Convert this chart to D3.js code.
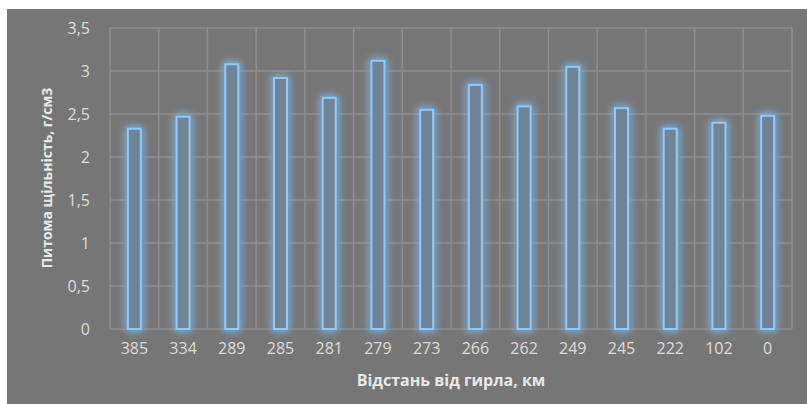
<!DOCTYPE html>
<html><head><meta charset="utf-8">
<script src="https://cdn.jsdelivr.net/npm/d3@7"></script>
<style>body{margin:0;background:#fff;}svg{display:block;}</style>
</head><body>
<script>
const categories = ["385","334","289","285","281","279","273","266","262","249","245","222","102","0"];
const values = [2.34,2.48,3.09,2.93,2.70,3.13,2.56,2.85,2.60,3.06,2.58,2.34,2.41,2.49];
const yTicks = [0,0.5,1,1.5,2,2.5,3,3.5];
const yTickLabels = ["0","0,5","1","1,5","2","2,5","3","3,5"];

(function(){
const W = 807, H = 404;
const svg = d3.select("body").append("svg").attr("width", W).attr("height", H);
const defs = svg.append("defs");
const f = defs.append("filter").attr("id","glow").attr("x","-150%").attr("y","-20%").attr("width","400%").attr("height","140%");
f.append("feGaussianBlur").attr("in","SourceGraphic").attr("stdDeviation",4).attr("result","b");
const m = f.append("feMerge");
m.append("feMergeNode").attr("in","b");
m.append("feMergeNode").attr("in","b");
m.append("feMergeNode").attr("in","SourceGraphic");

svg.append("rect").attr("x",7).attr("y",9).attr("width",W-7).attr("height",H-9).attr("fill","#767676");

const pl = 110, pr = 792, pt = 28, pb = 329;
const x = d3.scaleBand().domain(categories).range([pl,pr]).paddingInner(0).paddingOuter(0);
const y = d3.scaleLinear().domain([0,3.5]).range([pb,pt]);

const g = svg.append("g");
g.selectAll("line.h").data(yTicks).enter().append("line")
 .attr("x1",pl).attr("x2",pr).attr("y1",d=>y(d)).attr("y2",d=>y(d))
 .attr("stroke","#8e8e8e").attr("stroke-width",1.5);
const bounds = categories.map(c=>x(c)).concat([pr]);
g.selectAll("line.v").data(bounds).enter().append("line")
 .attr("x1",d=>d).attr("x2",d=>d).attr("y1",pt).attr("y2",pb)
 .attr("stroke","#8e8e8e").attr("stroke-width",1.5);

const yAxis = d3.axisLeft(y).tickValues(yTicks).tickFormat((d,i)=>yTickLabels[i]).tickSize(0).tickPadding(20);
const ya = svg.append("g").attr("transform",`translate(${pl},0)`).call(yAxis);
ya.select(".domain").remove();
ya.selectAll("text").attr("fill","#dcdcdc").attr("font-family","Open Sans, sans-serif").attr("font-size",16);

const bw = 13;
svg.append("g").attr("filter","url(#glow)").selectAll("rect").data(values).enter().append("rect")
 .attr("x",(d,i)=>x(categories[i])+x.bandwidth()/2-bw/2)
 .attr("y",d=>y(d)+1)
 .attr("width",bw)
 .attr("height",d=>pb-y(d)-1)
 .attr("fill","#6f8496")
 .attr("stroke","#8ccaff").attr("stroke-width",2);

const xAxis = d3.axisBottom(x).tickSize(0).tickPadding(14);
const xa = svg.append("g").attr("transform",`translate(0,${pb})`).call(xAxis);
xa.select(".domain").remove();
xa.selectAll("text").attr("fill","#dcdcdc").attr("font-family","Open Sans, sans-serif").attr("font-size",16);

svg.append("text").attr("x",451).attr("y",386).attr("text-anchor","middle")
 .attr("fill","#e8e8e8").attr("font-family","Open Sans, sans-serif").attr("font-weight","bold").attr("font-size",16)
 .text("Відстань від гирла, км");
svg.append("text").attr("transform","translate(52,178) rotate(-90)").attr("text-anchor","middle")
 .attr("fill","#e8e8e8").attr("font-family","Open Sans, sans-serif").attr("font-weight","bold").attr("font-size",14)
 .text("Питома щільність, г/см3");
})();
</script>
</body></html>
